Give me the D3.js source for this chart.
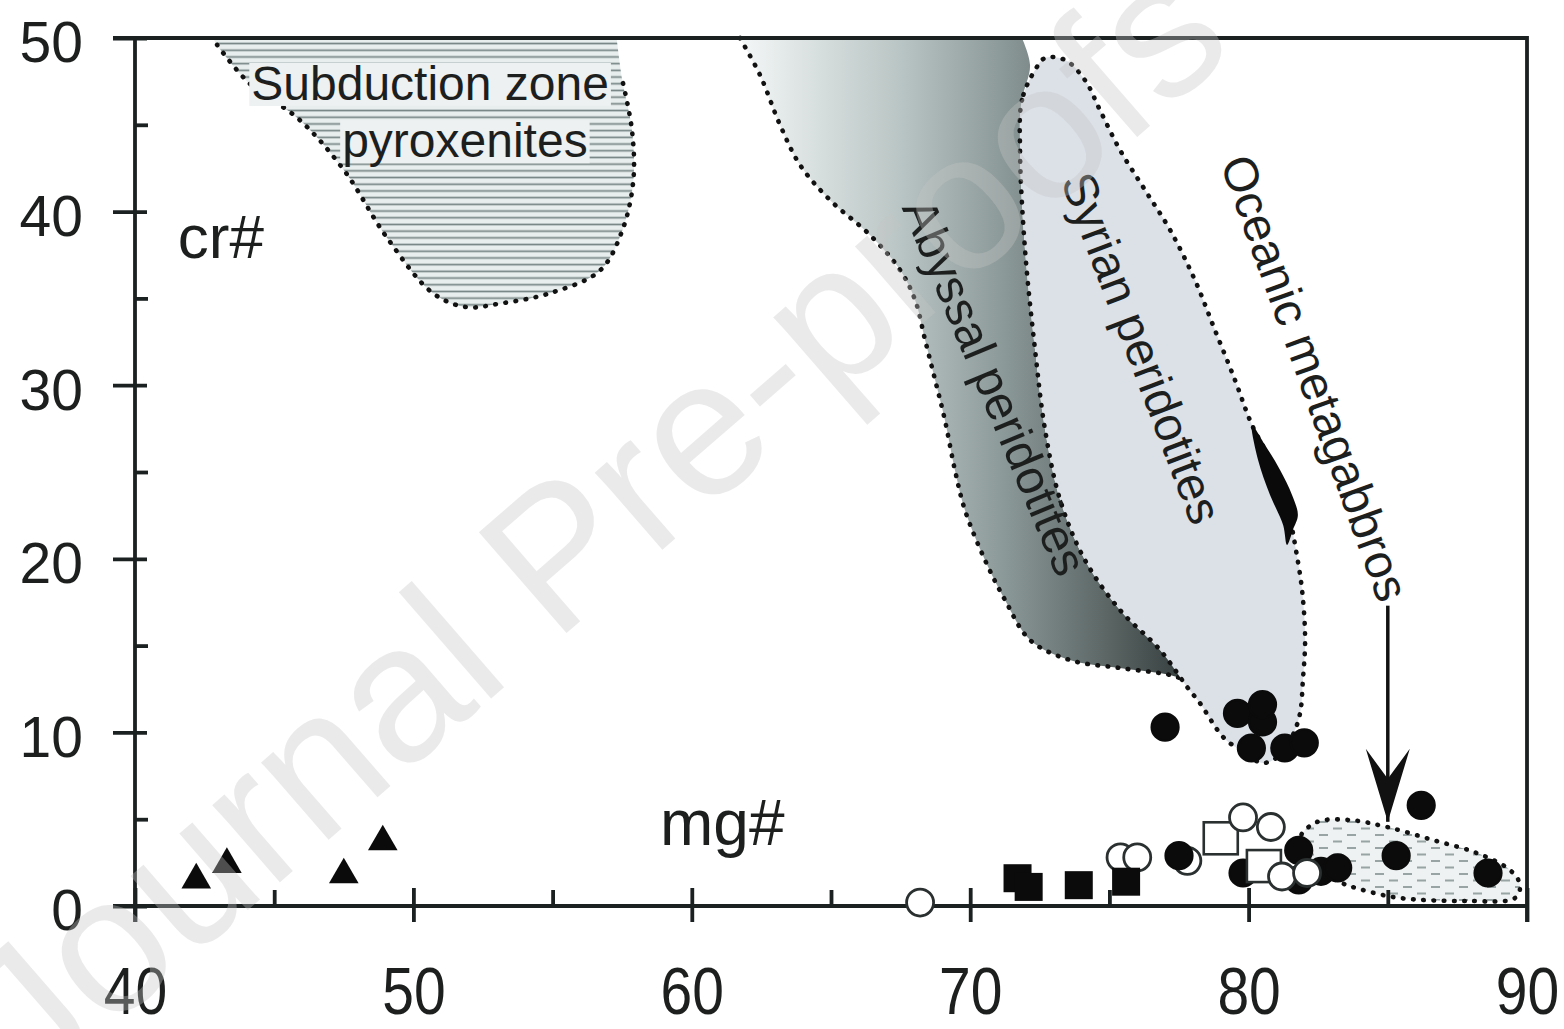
<!DOCTYPE html>
<html><head><meta charset="utf-8">
<script src="https://cdn.jsdelivr.net/npm/d3@7"></script>
<style>
html,body{margin:0;padding:0;background:#fff;}
svg{display:block;}
text{font-family:"Liberation Sans",Arial,Helvetica,sans-serif;}
</style></head>
<body>
<svg id="chart" width="1564" height="1029"></svg>
<script>
// ---------- data (mg#, cr#) ----------
const xTicks = [40, 50, 60, 70, 80, 90];
const xMinorTicks = [45, 55, 65, 75, 85];
const yTicks = [0, 10, 20, 30, 40, 50];
const yMinorTicks = [5, 15, 25, 35, 45];

const triangles = [[42.2,1.5],[43.3,2.4],[47.5,1.8],[48.9,3.7]];
const filledSquares = [[71.7,1.6],[72.1,1.1],[73.9,1.2],[75.6,1.4]];
const openCirclesBack = [[75.4,2.8],[76.0,2.8],[77.8,2.6]];
const filledCircles = [
  [77.0,10.3],[79.6,11.1],[80.5,10.6],[80.5,11.6],[80.1,9.1],[81.3,9.1],[82.0,9.4],
  [77.5,2.9],[79.8,1.9],[81.8,3.2],[81.8,1.5],[82.6,2.0],[83.2,2.2],
  [85.3,2.9],[86.2,5.8],[88.6,1.9]
];
const openSquares = [[79.0,3.9],[80.55,2.3]];
const openCircles = [[68.2,0.2],[79.8,5.1],[80.8,4.55],[81.2,1.7],[82.1,1.9]];

const subductionZone = [[42.8,50],[42.95,49.6],[44.1,47.4],[45.9,45.3],[47.5,42.4],[49.05,38.5],[50.7,35.3],[51.9,34.5],[53.1,34.7],[54.9,35.3],[56.7,36.6],[57.5,38.9],[57.9,41.8],[57.85,44.7],[57.5,47.6],[57.3,50]];
const abyssalLeft = [[61.73,50],[62.45,47.87],[63.17,44.99],[63.89,42.68],[64.96,40.67],[66.4,38.65],[67.48,36.64],[68.02,34.91],[68.38,32.6],[68.74,30.3],[69.09,28.0],[69.45,25.12],[69.81,22.81],[70.53,19.93],[71.25,17.63],[72.15,15.32],[73.58,14.17],[75.38,13.71],[77.18,13.31],[77.72,13.02]];
const abyssalRight = [[77.72,13.02],[76.82,14.75],[75.38,17.05],[74.12,19.93],[73.23,23.39],[72.69,27.42],[72.33,32.03],[71.97,37.79],[71.79,43.55],[71.86,46.43],[72.15,48.44],[71.86,50]];
const syrian = [[72.33,48.16],[71.86,46.43],[71.79,43.55],[71.97,37.79],[72.33,32.03],[72.69,27.42],[73.23,23.39],[74.12,19.93],[75.38,17.05],[76.82,14.75],[77.79,12.62],[78.25,11.69],[79.08,9.74],[79.69,8.99],[80.52,8.24],[81.13,8.7],[81.59,9.85],[81.85,11.12],[81.95,13.02],[82.03,15.32],[81.92,18.2],[81.7,20.51],[81.49,22.24],[80.95,25.12],[80.12,27.71],[79.51,30.3],[78.79,33.18],[78.07,36.06],[77.18,38.94],[76.28,41.24],[75.38,43.55],[74.66,45.85],[74.12,47.58],[73.41,48.73],[72.69,48.85]];
const blackSmear = [[80.12,27.71],[80.59,26.56],[81.13,25.12],[81.56,23.68],[81.77,22.52],[81.59,21.66],[81.38,20.8],[81.24,21.95],[80.77,23.68],[80.34,25.69]];
const metagabbro = [[81.85,3.92],[82.46,4.84],[83.64,4.95],[84.97,4.55],[86.62,3.8],[88.2,3.05],[89.39,2.07],[89.75,1.21],[89.57,0.46],[87.84,0.29],[85.44,0.46],[84.25,0.86],[83.28,1.38],[82.2,2.53]];
const arrowLine = [[85.0,17.3],[85.0,4.85]];

const regionLabels = [
  {text:"Subduction zone", at:[50.6,47.4], rot:0, box:true},
  {text:"pyroxenites", at:[51.85,44.1], rot:0, box:true},
  {text:"Abyssal peridotites", at:[70.89,29.9], rot:67.2},
  {text:"Syrian peridotites", at:[76.17,32.14], rot:69.2},
  {text:"Oceanic metagabbros", at:[82.39,30.41], rot:70.2}
];
const axisLabels = [
  {text:"cr#", at:[41.54,37.33], size:62},
  {text:"mg#", at:[58.86,3.51], size:64}
];

// ---------- scales ----------
const svg = d3.select("#chart");
const x = d3.scaleLinear().domain([40,90]).range([135,1527]);
const y = d3.scaleLinear().domain([0,50]).range([906,38]);
const ink = "#1b2020";

const defs = svg.append("defs");
const hatch = defs.append("pattern").attr("id","hatch").attr("patternUnits","userSpaceOnUse")
  .attr("width",10).attr("height",6.7);
hatch.append("rect").attr("width",10).attr("height",6.7).attr("fill","#e8eded");
hatch.append("line").attr("x1",0).attr("x2",10).attr("y1",3.35).attr("y2",3.35)
  .attr("stroke","#768685").attr("stroke-width",1.7);

const dash = defs.append("pattern").attr("id","dashp").attr("patternUnits","userSpaceOnUse")
  .attr("width",28).attr("height",13);
dash.append("rect").attr("width",28).attr("height",13).attr("fill","#eff2f2");
dash.append("line").attr("x1",3).attr("x2",12).attr("y1",3).attr("y2",3).attr("stroke","#98a3a3").attr("stroke-width",2);
dash.append("line").attr("x1",17).attr("x2",26).attr("y1",9.5).attr("y2",9.5).attr("stroke","#98a3a3").attr("stroke-width",2);

const grad = defs.append("linearGradient").attr("id","abyss").attr("gradientUnits","userSpaceOnUse")
  .attr("x1",x(61.7)).attr("x2",x(77.8)).attr("y1",0).attr("y2",0);
[[0,"#f4f7f7"],[0.36,"#b9c5c4"],[0.59,"#8b9998"],[0.82,"#5b6665"],[1,"#353d3d"]]
  .forEach(([o,c])=>grad.append("stop").attr("offset",o).attr("stop-color",c));

const smooth = d3.line().x(d=>x(d[0])).y(d=>y(d[1])).curve(d3.curveCatmullRom.alpha(0.5));
const smoothClosed = d3.line().x(d=>x(d[0])).y(d=>y(d[1])).curve(d3.curveCatmullRomClosed.alpha(0.5));
const dotted = sel => sel.attr("fill","none").attr("stroke","#111").attr("stroke-width",4.6)
  .attr("stroke-linecap","round").attr("stroke-dasharray","0.6 9.6");

// ---------- regions ----------
const regions = svg.append("g");
regions.append("path").attr("d", smooth(subductionZone)+"Z").attr("fill","url(#hatch)");
regions.append("path").attr("d", smooth(subductionZone.slice(1,-1))).call(dotted);

const abyssPath = smooth(abyssalLeft) + "L" + smooth(abyssalRight).slice(1) + "Z";
regions.append("path").attr("d", abyssPath).attr("fill","url(#abyss)");
regions.append("path").attr("d", smooth(abyssalLeft)).call(dotted);

regions.append("path").attr("d", smoothClosed(syrian)).attr("fill","#dce1e8");
regions.append("path").attr("d", smoothClosed(syrian)).call(dotted);
regions.append("path").attr("d", smoothClosed(blackSmear)).attr("fill","#0a0a0a");

regions.append("path").attr("d", smoothClosed(metagabbro)).attr("fill","url(#dashp)");
regions.append("path").attr("d", smoothClosed(metagabbro)).call(dotted);

// ---------- labels ----------
const lab = svg.append("g").attr("fill","#1d1f1f").attr("font-size",48);
regionLabels.forEach(l=>{
  const g = lab.append("g").attr("transform",`translate(${x(l.at[0])},${y(l.at[1])}) rotate(${l.rot})`);
  const t = g.append("text").attr("text-anchor","middle").attr("dy","0.35em").text(l.text);
  if(l.box){
    const bb = t.node().getBBox();
    g.insert("rect","text").attr("x",bb.x-2).attr("y",bb.y+6).attr("width",bb.width+4).attr("height",bb.height-10).attr("fill","#edf1f1");
  }
});
axisLabels.forEach(l=>{
  svg.append("text").attr("x",x(l.at[0])).attr("y",y(l.at[1])).attr("font-size",l.size)
    .attr("fill","#1d1f1f").text(l.text);
});

// arrow
svg.append("path").attr("d", d3.line().x(d=>x(d[0])).y(d=>y(d[1]))(arrowLine))
  .attr("stroke","#111").attr("stroke-width",3.5).attr("fill","none");
{
  const tx = x(arrowLine[1][0]), ty = y(arrowLine[1][1]);
  svg.append("path").attr("d",`M${tx},${ty} L${tx-22},${ty-73} L${tx},${ty-43} L${tx+22},${ty-73} Z`).attr("fill","#111");
}

// ---------- axes ----------
const ax = svg.append("g");
const yAxis = d3.axisLeft(y).tickValues(yTicks).tickSize(22).tickPadding(30).tickFormat(d3.format("d"));
const gy = ax.append("g").attr("transform",`translate(${x(40)},0)`).call(yAxis);
gy.select(".domain").remove();
gy.selectAll(".tick line").attr("x1",12).attr("stroke",ink).attr("stroke-width",3.8);
gy.selectAll(".tick text").attr("font-size",57).attr("dy","0.42em").attr("fill","#1d1f1f").attr("font-family","Liberation Sans, Arial");

const yMinor = d3.axisRight(y).tickValues(yMinorTicks).tickSize(13).tickFormat("");
const gym = ax.append("g").attr("transform",`translate(${x(40)},0)`).call(yMinor);
gym.select(".domain").remove();
gym.selectAll(".tick line").attr("stroke",ink).attr("stroke-width",3.8);

const xAxis = d3.axisBottom(x).tickValues(xTicks).tickSize(16).tickFormat(d3.format("d"));
const gx = ax.append("g").attr("transform",`translate(0,${y(0)})`).call(xAxis);
gx.select(".domain").remove();
gx.selectAll(".tick line").attr("y1",-18).attr("stroke",ink).attr("stroke-width",3.8);
gx.selectAll(".tick text").attr("font-size",57).attr("y",0).attr("dy",0)
  .attr("transform","translate(0,108) scale(1,1.17)").attr("fill","#1d1f1f").attr("font-family","Liberation Sans, Arial");

const xMinor = d3.axisTop(x).tickValues(xMinorTicks).tickSize(16).tickFormat("");
const gxm = ax.append("g").attr("transform",`translate(0,${y(0)})`).call(xMinor);
gxm.select(".domain").remove();
gxm.selectAll(".tick line").attr("stroke",ink).attr("stroke-width",3.8);

const frame = [[x(40)-22,y(50)],[x(90),y(50)],[x(90),y(0)+16]];
ax.append("path").attr("d",d3.line()(frame)).attr("fill","none").attr("stroke",ink).attr("stroke-width",3.8);
ax.append("line").attr("x1",x(40)).attr("x2",x(40)).attr("y1",y(50)).attr("y2",y(0)+16).attr("stroke",ink).attr("stroke-width",3.8);
ax.append("line").attr("x1",x(40)-22).attr("x2",x(90)).attr("y1",y(0)).attr("y2",y(0)).attr("stroke",ink).attr("stroke-width",3.8);

// ---------- marks ----------
const marks = svg.append("g");
const circ = (data, filled) => marks.append("g").selectAll("circle").data(data).join("circle")
  .attr("cx",d=>x(d[0])).attr("cy",d=>y(d[1])).attr("r",13.5)
  .attr("fill", filled ? "#0b0b0b" : "#fff").attr("stroke", filled ? "#0b0b0b" : "#2a2f2f").attr("stroke-width",filled ? 2.2 : 2.8);
circ(openCirclesBack,false);
marks.append("g").selectAll("path").data(triangles).join("path")
  .attr("d", d3.symbol(d3.symbolTriangle, 380))
  .attr("transform", d=>`translate(${x(d[0])},${y(d[1])})`).attr("fill","#0b0b0b");
marks.append("g").selectAll("rect").data(filledSquares).join("rect")
  .attr("x",d=>x(d[0])-14).attr("y",d=>y(d[1])-14).attr("width",28).attr("height",28).attr("fill","#0b0b0b");
circ(filledCircles,true);
marks.append("g").selectAll("rect").data(openSquares).join("rect")
  .attr("x",d=>x(d[0])-17).attr("y",d=>y(d[1])-16).attr("width",34).attr("height",32)
  .attr("fill","#fff").attr("stroke","#2a2f2f").attr("stroke-width",2.6);
circ(openCircles,false);

// ---------- watermark ----------
svg.append("text").attr("transform","translate(590,520) rotate(-41)")
  .attr("text-anchor","middle").attr("dy","0.36em").attr("font-size",194)
  .attr("fill","#c4c4c4").attr("fill-opacity",0.36).text("Journal Pre-proofs");
</script>
</body></html>
